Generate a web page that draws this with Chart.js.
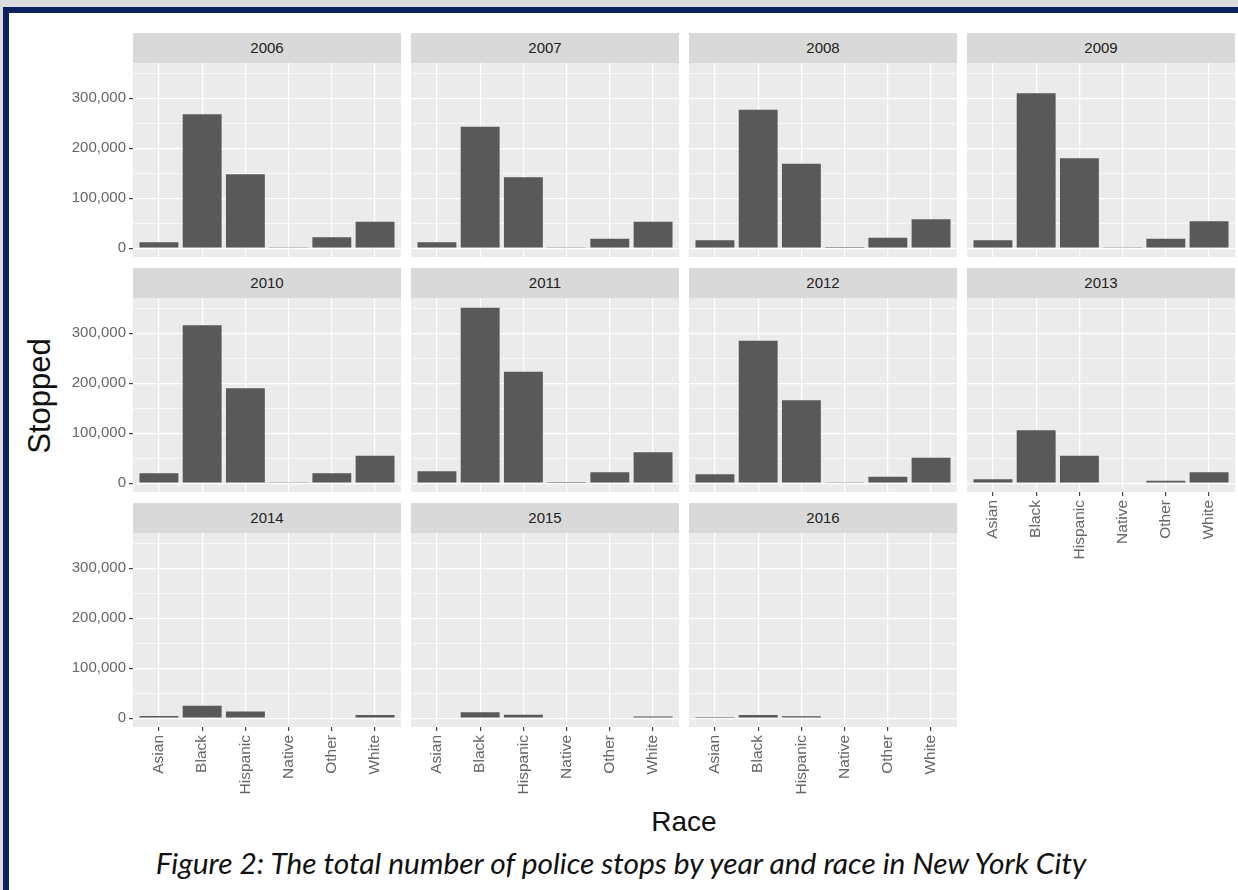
<!DOCTYPE html>
<html>
<head>
<meta charset="utf-8">
<script src="https://cdn.jsdelivr.net/npm/chart.js@4.4.1/dist/chart.umd.min.js"></script>
<style>
  body { margin: 0; width: 1238px; height: 890px; background: #fff; position: relative; overflow: hidden; font-family: "Liberation Sans", Arial, sans-serif; }
  #topStrip { position: absolute; left: 0; top: 0; width: 1238px; height: 7px; background: #dcdcdc; }
  #leftStrip { position: absolute; left: 0; top: 0; width: 3px; height: 890px; background: #dcdcdc; }
  #frameTop { position: absolute; left: 3px; top: 7px; width: 1235px; height: 6px; background: #0c2261; }
  #frameLeft { position: absolute; left: 3px; top: 7px; width: 6px; height: 883px; background: #0c2261; }
  .strip { position: absolute; height: 30px; background: #d9d9d9; color: #222; font-size: 15px; line-height: 30px; text-align: center; }
  .panel { position: absolute; }
  #yTitle { position: absolute; left: 40px; top: 396px; transform: translate(-50%, -50%) rotate(-90deg); font-size: 31px; color: #111; white-space: nowrap; }
  #xTitle { position: absolute; left: 684px; top: 822px; transform: translate(-50%, -50%); font-size: 28px; color: #111; white-space: nowrap; }
  #caption { position: absolute; left: 621px; top: 862px; transform: translate(-50%, -50%); font-family: Lato, "Open Sans", sans-serif; font-style: italic; font-size: 24px; color: #111; white-space: nowrap; }
</style>
</head>
<body>
<div id="topStrip"></div>
<div id="leftStrip"></div>
<div id="frameTop"></div>
<div id="frameLeft"></div>
<div id="yTitle">Stopped</div>
<div id="xTitle">Race</div>
<div id="caption">Figure 2: The total number of police stops by year and race in New York City</div>
<script>
// data (stops per race, one array per year)
const races = ["Asian", "Black", "Hispanic", "Native", "Other", "White"];
const years = ["2006", "2007", "2008", "2009", "2010", "2011", "2012", "2013", "2014", "2015", "2016"];
const stops2006 = [12000, 268000, 148000, 2000, 22000, 53000];
const stops2007 = [12000, 243000, 142000, 2000, 19000, 53000];
const stops2008 = [16000, 277000, 169000, 2500, 21000, 58000];
const stops2009 = [16000, 310000, 180000, 2000, 19000, 54000];
const stops2010 = [20000, 316000, 190000, 2000, 20000, 55000];
const stops2011 = [24000, 351000, 223000, 2500, 22000, 62000];
const stops2012 = [18000, 285000, 166000, 2000, 13000, 51000];
const stops2013 = [8000, 106000, 55000, 0, 5000, 22000];
const stops2014 = [4500, 25000, 13500, 0, 0, 6500];
const stops2015 = [1500, 12000, 7000, 0, 0, 3500];
const stops2016 = [500, 6500, 4000, 0, 0, 1500];
const yTickValues = [0, 50000, 100000, 150000, 200000, 250000, 300000, 350000];

const stopsByYear = [stops2006, stops2007, stops2008, stops2009, stops2010, stops2011,
  stops2012, stops2013, stops2014, stops2015, stops2016];

// layout of the facet grid (pixels)
const colLeft = [133, 411, 689, 967];
const rowTop = [33, 268, 503];
const PANEL_W = 268, PLOT_H = 194, STRIP_H = 30;
const AXIS_W = 80, AXIS_H = 90;

// grey panel background like ggplot
const panelBg = {
  id: "panelBg",
  beforeDraw(chart) {
    const { ctx, chartArea: a } = chart;
    ctx.save();
    ctx.fillStyle = "#ebebeb";
    ctx.fillRect(a.left, a.top, a.right - a.left, a.bottom - a.top);
    ctx.restore();
  }
};

years.forEach((yr, k) => {
  const col = k % 4, row = Math.floor(k / 4);
  const showX = row === 2 || (row === 1 && col === 3);
  const showY = col === 0;

  const strip = document.createElement("div");
  strip.className = "strip";
  strip.style.left = colLeft[col] + "px";
  strip.style.top = rowTop[row] + "px";
  strip.style.width = PANEL_W + "px";
  strip.innerText = yr;
  document.body.appendChild(strip);

  const box = document.createElement("div");
  box.className = "panel";
  box.style.left = (colLeft[col] - AXIS_W) + "px";
  box.style.top = (rowTop[row] + STRIP_H) + "px";
  const canvas = document.createElement("canvas");
  canvas.width = PANEL_W + AXIS_W;
  canvas.height = PLOT_H + AXIS_H;
  box.appendChild(canvas);
  document.body.appendChild(box);

  new Chart(canvas, {
    type: "bar",
    data: {
      datasets: [{
        data: stopsByYear[k].map((v, i) => ({ x: i, y: v })),
        backgroundColor: "#595959",
        borderWidth: 0,
        barPercentage: 0.9,
        categoryPercentage: 1
      }]
    },
    plugins: [panelBg],
    options: {
      responsive: false,
      animation: false,
      layout: { padding: 0 },
      plugins: { legend: { display: false }, tooltip: { enabled: false }, title: { display: false } },
      scales: {
        x: {
          type: "linear",
          min: -0.6,
          max: 5.6,
          offset: false,
          afterBuildTicks: (s) => { s.ticks = races.map((r, i) => ({ value: i })); },
          afterFit: (s) => { s.height = AXIS_H; s.paddingLeft = 0; s.paddingRight = 0; },
          border: { display: false },
          grid: {
            offset: false,
            color: "#ffffff",
            lineWidth: 1.2,
            drawTicks: showX,
            tickLength: 4,
            tickColor: "#444"
          },
          ticks: {
            display: showX,
            autoSkip: false,
            minRotation: 90,
            maxRotation: 90,
            padding: 4,
            color: "#666",
            font: { family: "Liberation Sans", size: 15.5 },
            callback: (v) => races[v]
          }
        },
        y: {
          min: -17600,
          max: 370500,
          afterBuildTicks: (s) => { s.ticks = yTickValues.map(v => ({ value: v })); },
          afterFit: (s) => { s.width = AXIS_W; s.paddingTop = 0; s.paddingBottom = 0; },
          border: { display: false },
          grid: {
            color: "#ffffff",
            lineWidth: (c) => (c.tick && c.tick.value % 100000 === 0 ? 1.2 : 0.6),
            drawTicks: showY,
            tickLength: 4,
            tickColor: (c) => (c.tick && c.tick.value % 100000 === 0 ? "#444" : "rgba(0,0,0,0)")
          },
          ticks: {
            display: showY,
            padding: 3,
            color: "#666",
            font: { family: "Liberation Sans", size: 15 },
            callback: (v) => (v % 100000 === 0 ? v.toLocaleString("en-US") : "")
          }
        }
      }
    }
  });
});

// fit caption to the width it has in the figure
const cap = document.getElementById("caption");
cap.style.fontSize = (24 * 931 / cap.offsetWidth) + "px";
</script>
</body>
</html>
